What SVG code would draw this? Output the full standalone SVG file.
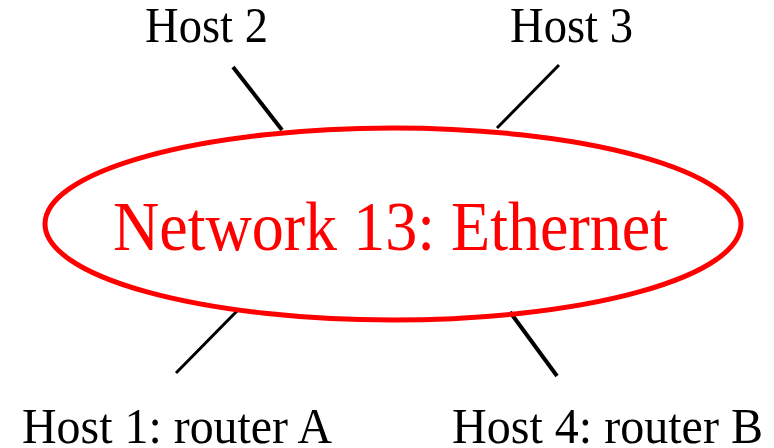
<svg xmlns="http://www.w3.org/2000/svg" width="774" height="448" viewBox="0 0 774 448">
<style>
.lbl{font-family:"Liberation Serif","Times New Roman",serif;font-size:50px;fill:#000}
.net{font-family:"Liberation Serif","Times New Roman",serif;font-size:69px;fill:#ff0000}
.link{stroke:#000;stroke-linecap:butt;fill:none}
</style>
<rect width="774" height="448" fill="#fff"/>
<g id="connectors">
<line class="link" x1="233" y1="67" x2="282" y2="130" stroke-width="4"/>
<line class="link" x1="559" y1="65" x2="497" y2="128" stroke-width="3"/>
<line class="link" x1="238" y1="310" x2="176" y2="373" stroke-width="3"/>
<line class="link" x1="510" y1="312" x2="557" y2="376" stroke-width="4"/>
</g>
<g id="network13">
<ellipse cx="393" cy="224" rx="348" ry="96" fill="none" stroke="#ff0000" stroke-width="5"/>
<text class="net" x="390.5" y="250" text-anchor="middle" textLength="555" lengthAdjust="spacingAndGlyphs">Network 13: Ethernet</text>
</g>
<g id="host2">
<text class="lbl" x="206.5" y="42" text-anchor="middle" textLength="123" lengthAdjust="spacingAndGlyphs">Host 2</text>
</g>
<g id="host3">
<text class="lbl" x="571.5" y="42" text-anchor="middle" textLength="123" lengthAdjust="spacingAndGlyphs">Host 3</text>
</g>
<g id="host1">
<text class="lbl" x="177" y="443" text-anchor="middle" textLength="310" lengthAdjust="spacingAndGlyphs">Host 1: router A</text>
</g>
<g id="host4">
<text class="lbl" x="607.5" y="443" text-anchor="middle" textLength="311" lengthAdjust="spacingAndGlyphs">Host 4: router B</text>
</g>
</svg>
